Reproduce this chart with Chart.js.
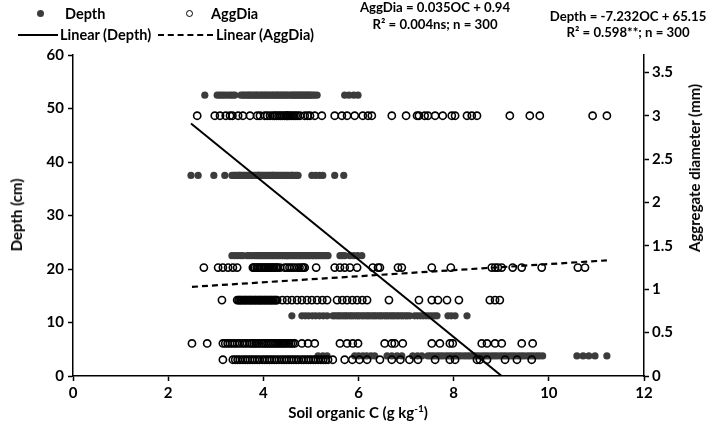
<!DOCTYPE html>
<html><head><meta charset="utf-8">
<script src="https://cdn.jsdelivr.net/npm/chart.js@4"></script>
<style>
html,body{margin:0;padding:0;background:#fff;}
#wrap{position:relative;width:709px;height:434px;font-family:Lato,"Open Sans",sans-serif;font-weight:bold;color:#000;overflow:hidden;}
canvas{position:absolute;left:0;top:0;}
.t{position:absolute;font-size:14.5px;white-space:nowrap;line-height:15px;}
.e{font-size:13.2px;}
.c{transform:translateX(-50%);text-align:center;}
.dot{position:absolute;width:7px;height:7px;border-radius:50%;background:#3c3c3c;}
.ring{position:absolute;width:5px;height:5px;border-radius:50%;border:1.6px solid #000;}
.ln{position:absolute;height:0;border-top:2px solid #000;}
.dl{position:absolute;height:0;border-top:2px dashed #000;}
.rot{position:absolute;font-size:15px;white-space:nowrap;line-height:16px;transform:translate(-50%,-50%) rotate(-90deg);}
</style></head><body>
<div id="wrap">
<canvas id="c" width="709" height="434"></canvas>
<div class="dot" style="left:37px;top:10px"></div>
<div class="t" style="left:65px;top:6px">Depth</div>
<div class="ring" style="left:186px;top:10px"></div>
<div class="t" style="left:211px;top:6px">AggDia</div>
<div class="ln" style="left:18px;top:34px;width:40px"></div>
<div class="t" style="left:60px;top:27px">Linear (Depth)</div>
<div class="dl" style="left:158px;top:34px;width:55px"></div>
<div class="t" style="left:216px;top:27px">Linear (AggDia)</div>
<div class="t c e" style="left:435px;top:0px">AggDia = 0.035OC + 0.94</div>
<div class="t c e" style="left:435px;top:17px">R² = 0.004ns; n = 300</div>
<div class="t c e" style="left:628px;top:9px">Depth = -7.232OC + 65.15</div>
<div class="t c e" style="left:628px;top:25px">R² = 0.598**; n = 300</div>
<div class="rot" style="left:16px;top:215px">Depth (cm)</div>
<div class="rot" style="left:694px;top:168px">Aggregate diameter (mm)</div>
<div class="t c" style="left:358px;top:404px;font-size:15px;line-height:16px">Soil organic C (g kg<sup style="font-size:10px;line-height:0">-1</sup>)</div>
</div>
<script>
// ---- data ----
const depthLevels = [52.5, 37.5, 22.5, 11.25, 3.75];
const depthOC52 = [2.77,3.03,3.08,3.13,3.18,3.24,3.30,3.35,3.40,3.53,3.57,3.61,3.65,3.69,3.72,3.76,3.80,3.84,3.87,3.91,3.95,3.98,4.02,4.05,4.09,4.12,4.16,4.20,4.23,4.27,4.30,4.33,4.37,4.40,4.44,4.47,4.50,4.54,4.58,4.61,4.64,4.67,4.70,4.73,4.76,4.79,4.82,4.85,4.88,4.91,4.94,4.97,5.00,5.04,5.08,5.13,5.71,5.80,5.90,5.99];
const depthOC37 = [2.48,2.63,2.96,3.19,3.34,3.37,3.40,3.43,3.46,3.49,3.50,3.52,3.55,3.58,3.61,3.64,3.67,3.70,3.73,3.76,3.79,3.82,3.85,3.88,3.90,3.91,3.94,3.97,4.00,4.03,4.06,4.09,4.12,4.15,4.18,4.20,4.21,4.24,4.27,4.30,4.33,4.36,4.39,4.42,4.45,4.48,4.51,4.55,4.59,4.60,4.63,4.67,4.70,4.73,5.02,5.10,5.18,5.25,5.50,5.69];
const depthOC22 = [3.34,3.40,3.46,3.52,3.57,3.66,3.71,3.76,3.82,3.86,3.90,3.93,3.97,4.00,4.04,4.07,4.11,4.14,4.18,4.21,4.25,4.28,4.32,4.35,4.39,4.42,4.46,4.49,4.50,4.53,4.56,4.60,4.63,4.67,4.70,4.74,4.77,4.81,4.84,4.88,4.91,4.95,4.98,5.02,5.05,5.09,5.12,5.16,5.20,5.24,5.28,5.32,5.36,5.61,5.66,5.71,5.82,5.90,5.98,6.07];
const depthOC11 = [4.60,4.81,4.88,4.95,5.03,5.10,5.18,5.26,5.34,5.46,5.50,5.55,5.59,5.63,5.68,5.72,5.76,5.81,5.85,5.89,5.94,5.98,6.02,6.07,6.11,6.16,6.20,6.24,6.29,6.33,6.37,6.42,6.46,6.50,6.55,6.59,6.63,6.68,6.72,6.76,6.81,6.85,6.90,6.94,6.99,7.03,7.08,7.18,7.24,7.30,7.36,7.42,7.48,7.54,7.60,7.65,7.88,7.95,8.03,8.28];
const depthOC3 = [5.15,5.25,5.34,5.92,6.00,6.09,6.17,6.26,6.34,6.60,6.70,6.81,6.91,7.14,7.24,7.33,7.46,7.52,7.58,7.65,7.71,7.77,7.84,7.90,7.96,8.03,8.09,8.15,8.22,8.28,8.34,8.41,8.47,8.53,8.60,8.66,8.72,8.79,8.85,8.91,8.98,9.04,9.10,9.17,9.23,9.29,9.36,9.42,9.48,9.55,9.61,9.67,9.74,9.80,9.87,10.59,10.72,10.84,10.97,11.22];

const aggLevels = [3.0, 1.25, 0.875, 0.375, 0.1875];
const aggOC300 = [2.61,2.98,3.09,3.21,3.30,3.35,3.47,3.57,3.72,3.87,3.93,4.03,4.08,4.14,4.20,4.24,4.28,4.32,4.36,4.40,4.44,4.48,4.50,4.52,4.56,4.60,4.64,4.68,4.72,4.77,4.87,4.93,4.98,5.08,5.23,5.50,5.65,5.76,5.92,6.09,6.20,6.28,6.70,7.00,7.23,7.27,7.39,7.46,7.61,7.77,7.96,8.03,8.28,8.38,8.49,9.18,9.60,9.81,10.92,11.22];
const aggOC125 = [2.75,3.05,3.15,3.26,3.36,3.45,3.78,3.80,3.82,3.86,3.88,3.90,3.94,3.96,3.98,4.02,4.04,4.06,4.10,4.12,4.14,4.18,4.20,4.22,4.26,4.28,4.30,4.35,4.45,4.50,4.55,4.60,4.65,4.71,4.76,4.81,4.84,4.87,5.11,5.50,5.61,5.71,5.82,5.97,6.30,6.41,6.45,6.83,6.91,7.54,7.94,8.80,8.87,8.93,9.01,9.24,9.43,9.85,10.61,10.76];
const aggOC0875 = [3.13,3.45,3.48,3.50,3.53,3.55,3.58,3.61,3.63,3.66,3.69,3.71,3.74,3.76,3.79,3.82,3.84,3.87,3.90,3.92,3.95,3.97,4.00,4.03,4.05,4.08,4.11,4.13,4.16,4.18,4.21,4.24,4.26,4.29,4.40,4.50,4.60,4.71,4.81,4.92,5.02,5.13,5.24,5.34,5.55,5.66,5.76,5.87,5.97,6.08,6.18,6.64,7.27,7.54,7.67,7.86,8.11,8.76,8.87,8.97];
const aggOC0375 = [2.50,2.82,3.15,3.20,3.25,3.30,3.35,3.40,3.45,3.50,3.56,3.61,3.66,3.72,3.76,3.80,3.84,3.88,3.92,3.97,4.01,4.05,4.09,4.13,4.17,4.21,4.25,4.29,4.33,4.37,4.41,4.45,4.49,4.54,4.58,4.62,4.66,4.81,4.94,5.08,5.61,5.76,5.88,5.99,6.55,6.70,6.76,6.93,7.54,7.71,7.92,7.98,8.59,8.70,8.87,9.01,9.43,9.66];
const aggOC01875 = [3.15,3.36,3.41,3.46,3.51,3.57,3.62,3.67,3.72,3.77,3.82,3.87,3.92,3.98,4.03,4.08,4.13,4.18,4.23,4.28,4.33,4.39,4.44,4.49,4.54,4.59,4.64,4.69,4.74,4.80,4.85,4.90,4.95,5.00,5.05,5.10,5.15,5.21,5.26,5.31,5.36,5.46,5.71,5.87,6.02,6.18,6.45,6.70,6.88,7.07,7.25,7.61,7.92,8.03,8.49,8.55,8.70,9.08,9.33,9.64];

const depthFitCoef = [-7.232, 65.15];   // slope, intercept
const aggFitCoef = [0.035, 0.94];
const xTickRange = [0, 12, 2];
const yTickRange = [0, 60, 10];
const y2TickRange = [0, 3.7, 0.5];

// ---- build ----
const depthRows = [depthOC52, depthOC37, depthOC22, depthOC11, depthOC3];
const aggRows = [aggOC300, aggOC125, aggOC0875, aggOC0375, aggOC01875];
const depthPts = depthRows.flatMap((r,i)=>r.map(x=>({x:x,y:depthLevels[i]})));
const aggPts = aggRows.flatMap((r,i)=>r.map(x=>({x:x,y:aggLevels[i]})));
function fitLine(pts, coef){
  const xs = pts.map(p=>p.x);
  const a = Math.min(...xs), b = Math.max(...xs);
  return [{x:a,y:coef[0]*a+coef[1]},{x:b,y:coef[0]*b+coef[1]}];
}
const font = {family:'Lato, "Open Sans", sans-serif', size:15, weight:'bold'};
const fmt = v => String(Math.round(v*100)/100);
const axisCommon = {
  grid:{display:true, drawOnChartArea:false, drawTicks:true, tickLength:5, color:'#000', tickWidth:1.5},
  border:{display:true, color:'#000', width:1.5},
  ticks:{color:'#000', font:font, padding:3, callback:fmt}
};
new Chart(document.getElementById('c'),{
  type:'scatter',
  data:{datasets:[
    {label:'Linear (Depth)', type:'line', data:fitLine(depthPts, depthFitCoef), yAxisID:'y', borderColor:'#000', borderWidth:2, pointRadius:0, fill:false, order:0},
    {label:'Linear (AggDia)', type:'line', data:fitLine(aggPts, aggFitCoef), yAxisID:'y2', borderColor:'#000', borderWidth:2.2, borderDash:[6,4], pointRadius:0, fill:false, order:1},
    {label:'AggDia', data:aggPts, yAxisID:'y2', pointRadius:3.6, pointBorderWidth:1.6, pointBorderColor:'#000', pointBackgroundColor:'rgba(0,0,0,0)', order:2},
    {label:'Depth', data:depthPts, yAxisID:'y', pointRadius:3.6, pointBorderWidth:0, pointBackgroundColor:'#3c3c3c', pointBorderColor:'#3c3c3c', order:3}
  ]},
  options:{
    responsive:false, animation:false, devicePixelRatio:1,
    layout:{padding:{top:55,left:0,right:0,bottom:0}},
    plugins:{legend:{display:false}, tooltip:{enabled:false}},
    scales:{
      x:{type:'linear', min:xTickRange[0], max:xTickRange[1], ...axisCommon,
         ticks:{...axisCommon.ticks, stepSize:xTickRange[2]}, afterFit(s){s.height=58;}},
      y:{type:'linear', position:'left', min:yTickRange[0], max:yTickRange[1], ...axisCommon,
         ticks:{...axisCommon.ticks, stepSize:yTickRange[2], padding:4}, afterFit(s){s.width=73;}},
      y2:{type:'linear', position:'right', min:y2TickRange[0], max:y2TickRange[1], ...axisCommon,
         ticks:{...axisCommon.ticks, stepSize:y2TickRange[2], includeBounds:false, padding:3}, afterFit(s){s.width=65;}}
    }
  }
});
</script>
</body></html>
